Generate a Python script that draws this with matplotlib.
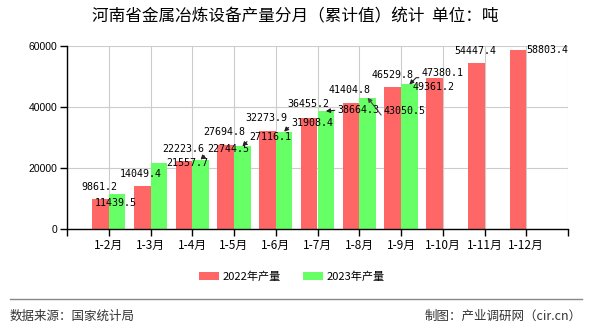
import numpy as np
import matplotlib
matplotlib.use("Agg")
import matplotlib.pyplot as plt

plt.rcParams['font.family'] = ['Noto Sans CJK SC', 'DejaVu Sans']

# data
months = ['1-2月', '1-3月', '1-4月', '1-5月', '1-6月', '1-7月',
          '1-8月', '1-9月', '1-10月', '1-11月', '1-12月']
prod_2022 = [9861.2, 14049.4, 22223.6, 27694.8, 32273.9, 36455.2,
             41404.8, 46529.8, 49361.2, 54447.4, 58803.4]
prod_2023 = [11439.5, 21557.7, 22744.5, 27116.1, 31908.4, 38664.3,
             43050.5, 47380.1]
yticks = [0, 20000, 40000, 60000]

red = '#FF6666'
green = '#66FF66'

# label placement (pixel offsets from bar top), arrow style or None
off_2022 = [(-1, 12), (-1, 12), (-1, 12), (-1, 12.5), (-1.5, 12.5), (-1, 13.5),
            (-1, 12.5), (0, 12.5), (-1, -9), (-1, 12), (29, 0)]
off_2023 = [(-1, -9, None), (28, 0, None),
            (27.5, 10.5, 'under'), (28.4, 9.6, 'under'), (28.4, 9, 'under'),
            (32.7, 1, 'left'), (37.3, -13, 'diag'), (33.2, 11.8, 'under')]

fig = plt.figure(figsize=(5.9, 3.3), dpi=100)
ax = fig.add_axes([67/590, 1-229/330, 501/590, 183/330])

x = np.arange(len(months))
w = 0.4
ax.bar(x - w/2, prod_2022, w, color=red, label='2022年产量', zorder=2)
x23 = np.arange(len(prod_2023))
ax.bar(x23 + w/2, prod_2023, w, color=green, label='2023年产量', zorder=2)

numfont = dict(family='DejaVu Sans Mono', fontsize=7.2, color='black')

for i, v in enumerate(prod_2022):
    dx, dy = off_2022[i]
    ax.annotate(f'{v:.1f}', xy=(x[i] - w/2, v), xytext=(dx, dy),
                textcoords='offset pixels', ha='center', va='center',
                zorder=5, **numfont)

for i, v in enumerate(prod_2023):
    dx, dy, kind = off_2023[i]
    ap = None
    if kind == 'under':
        ap = dict(arrowstyle='-|>,head_length=0.35,head_width=0.18', color='#222222',
                  lw=0.8, shrinkA=0, shrinkB=0, relpos=(1, 0),
                  connectionstyle='angle,angleA=0,angleB=45,rad=0')
    elif kind == 'left':
        ap = dict(arrowstyle='-|>,head_length=0.35,head_width=0.18', color='#222222',
                  lw=0.8, shrinkA=0, shrinkB=0, relpos=(0, 0.5))
    elif kind == 'diag':
        ap = dict(arrowstyle='-|>,head_length=0.35,head_width=0.18', color='#444444',
                  lw=0.8, shrinkA=0, shrinkB=0, relpos=(1, 0),
                  connectionstyle='angle,angleA=0,angleB=128,rad=0')
    ax.annotate(f'{v:.1f}', xy=(x23[i] + w/2, v), xytext=(dx, dy),
                textcoords='offset pixels', ha='center', va='center',
                arrowprops=ap, zorder=5, **numfont)

ax.set_xlim(-1, len(months))
ax.set_ylim(0, 60000)
ax.set_xticks(np.arange(-1, len(months) + 1))
ax.set_xticklabels([''] + months + [''], fontsize=8.5)
ax.set_yticks(yticks)
ax.set_yticklabels([str(t) for t in yticks], family='Liberation Sans', fontsize=7.5)
ax.tick_params(axis='both', length=5, width=1, color='black', pad=2)
ax.grid(True, color='#CCCCCC', lw=0.8)
ax.set_axisbelow(True)
for s in ['top', 'right']:
    ax.spines[s].set_visible(False)
for s in ['left', 'bottom']:
    ax.spines[s].set_color('black')
    ax.spines[s].set_linewidth(1)

fig.text(295/590, 1-17/330, '河南省金属冶炼设备产量分月（累计值）统计  单位：吨',
         ha='center', va='center', fontsize=12)

fig.legend(loc='center', bbox_to_anchor=(292/590, 1-277/330), ncol=2,
           frameon=False, fontsize=8, handlelength=1.8, handleheight=0.75,
           columnspacing=2.0, handletextpad=0.3)

fig.add_artist(plt.Line2D([10/590, 582/590], [1-299/330, 1-299/330],
                          color='#888888', lw=1))
fig.text(10/590, 1-316/330, '数据来源：国家统计局', ha='left', va='center',
         fontsize=9, color='#333333')
fig.text(582/590, 1-316/330, '制图：产业调研网（cir.cn）', ha='right', va='center',
         fontsize=9, color='#333333')

fig.savefig('out.png', dpi=100)
